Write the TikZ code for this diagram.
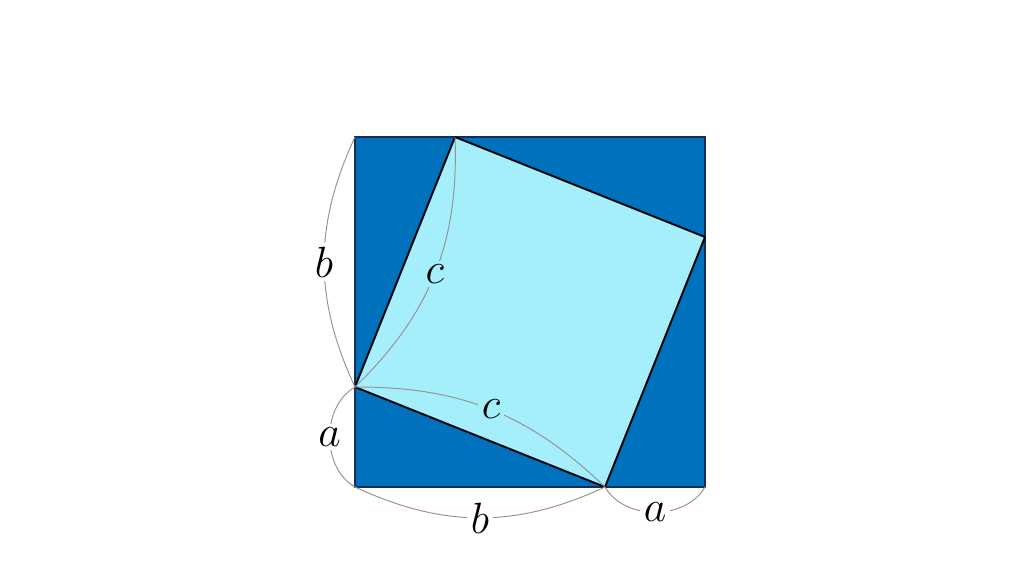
\documentclass[tikz,border=0pt]{standalone}
\usepackage{amsmath, amssymb}
\usepackage{xcolor}
\usetikzlibrary{positioning}

\definecolor{outerblue}{RGB}{0,113,188}
\definecolor{innercyan}{RGB}{165,238,252}
\definecolor{edgenavy}{RGB}{22,48,84}

\begin{document}
\begin{tikzpicture}[
    sidearc/.style={gray!85, line width=0.55pt},
    outlbl/.style={fill=white, text=black, inner sep=2pt, font=\fontsize{28}{33}\selectfont},
    inlbl/.style={fill=innercyan, text=black, inner sep=2pt, font=\fontsize{28}{33}\selectfont}
  ]
  \useasboundingbox (-7.1,-1.78) rectangle (13.38,9.74);
  % corners of the big square and of the tilted square
  \coordinate (sw) at (0,0);
  \coordinate (se) at (7,0);
  \coordinate (ne) at (7,7);
  \coordinate (nw) at (0,7);
  \coordinate (pb) at (5,0);
  \coordinate (pr) at (7,5);
  \coordinate (pt) at (2,7);
  \coordinate (pl) at (0,2);

  % big square
  \filldraw[fill=outerblue, draw=edgenavy, line width=0.9pt] (sw) -- (se) -- (ne) -- (nw) -- cycle;
  % tilted square
  \filldraw[fill=innercyan, draw=black, line width=1.1pt, line join=round] (pb) -- (pr) -- (pt) -- (pl) -- cycle;

  % side arcs with labels
  \draw[sidearc] (pl) to[bend left=25] node[outlbl] {$b$} (nw);
  \draw[sidearc] (sw) to[bend left=60] node[outlbl] {$a$} (pl);
  \draw[sidearc] (sw) to[bend right=25] node[outlbl] {$b$} (pb);
  \draw[sidearc] (pb) to[bend right=60] node[outlbl] {$a$} (se);
  \draw[sidearc] (pl) to[bend right=24] node[inlbl] {$c$} (pt);
  \draw[sidearc] (pl) to[bend left=22] node[inlbl] {$c$} (pb);
\end{tikzpicture}
\end{document}
